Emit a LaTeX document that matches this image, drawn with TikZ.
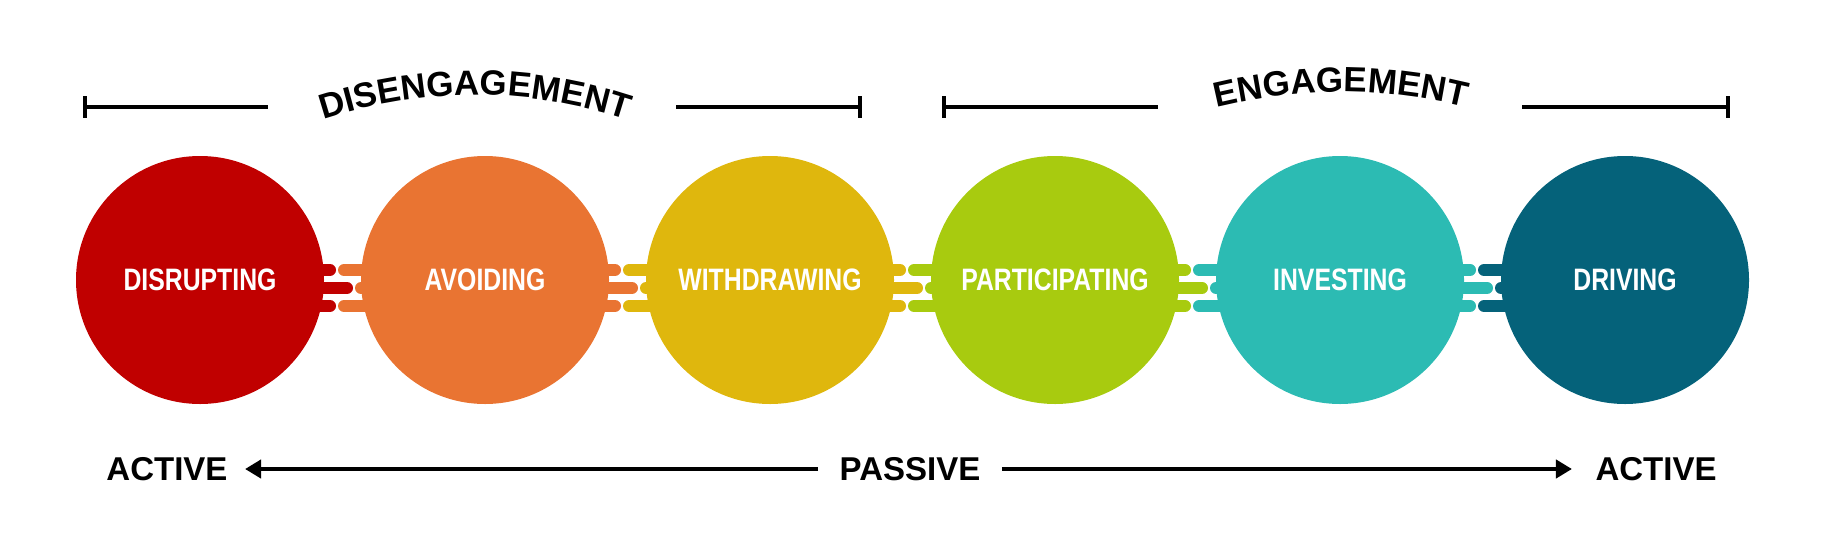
\documentclass[tikz,border=0pt]{standalone}
\usepackage{fontspec}
\setmainfont{Liberation Sans}
\newfontfamily\condfont[FakeStretch=0.80]{Liberation Sans}
\usetikzlibrary{decorations.text,arrows.meta}
\definecolor{cA}{HTML}{C00000}
\definecolor{cB}{HTML}{E97432}
\definecolor{cC}{HTML}{DFB70D}
\definecolor{cD}{HTML}{A8CB0F}
\definecolor{cE}{HTML}{2CBBB3}
\definecolor{cF}{HTML}{05627A}
\begin{document}
\begin{tikzpicture}[x=1pt,y=1pt,
  circ/.style={circle,minimum size=248pt,inner sep=0pt,fill=#1,text=white,font=\condfont\bfseries\fontsize{31}{31}\selectfont},
  bar/.style={line width=12pt,line cap=round,draw=#1},
  rule/.style={line width=4.5pt},
  lab/.style={font=\bfseries\fontsize{33}{33}\selectfont}]
\useasboundingbox (0,0) rectangle (1828,-549);
% connector bars
\foreach \i/\ca/\cb in {0/cA/cB,1/cB/cC,2/cC/cD,3/cD/cE,4/cE/cF}{
  \pgfmathsetmacro\cx{200+285*\i}
  \draw[bar=\ca] (\cx+100,-270) -- (\cx+130,-270);
  \draw[bar=\ca] (\cx+100,-288) -- (\cx+147,-288);
  \draw[bar=\ca] (\cx+100,-306) -- (\cx+130,-306);
  \draw[bar=\cb] (\cx+144,-270) -- (\cx+200,-270);
  \draw[bar=\cb] (\cx+161,-288) -- (\cx+200,-288);
  \draw[bar=\cb] (\cx+144,-306) -- (\cx+200,-306);
}
\node[circ=cA] (c1) at (200,-280) {DISRUPTING};
\node[circ=cB] (c2) at (485,-280) {AVOIDING};
\node[circ=cC] (c3) at (770,-280) {WITHDRAWING};
\node[circ=cD] (c4) at (1055,-280) {PARTICIPATING};
\node[circ=cE] (c5) at (1340,-280) {INVESTING};
\node[circ=cF] (c6) at (1625,-280) {DRIVING};
% brackets
\draw[rule] (85,-107) -- (268,-107) (676,-107) -- (860,-107);
\draw[rule] (85,-96) -- (85,-118) (860,-96) -- (860,-118);
\draw[rule] (944,-107) -- (1158,-107) (1522,-107) -- (1728,-107);
\draw[rule] (944,-96) -- (944,-118) (1728,-96) -- (1728,-118);
\path[decorate,decoration={text along path,text align=center,
  text format delimiters={|}{|},
  text={|\bfseries\fontsize{35}{35}\selectfont|DISENGAGEMENT}}]
  (300,-128) .. controls (415,-84) and (535,-84) .. (650,-128);
\path[decorate,decoration={text along path,text align=center,
  text format delimiters={|}{|},
  text={|\bfseries\fontsize{35}{35}\selectfont|ENGAGEMENT}}]
  (1185,-116) .. controls (1290,-84) and (1392,-84) .. (1497,-116);
% bottom axis
\node[lab] (a1) at (167,-469) {ACTIVE};
\node[lab] (p) at (910,-469) {PASSIVE};
\node[lab] (a2) at (1656,-469) {ACTIVE};
\draw[rule,-{Triangle[length=16pt,width=18pt]}] (p.west)+(-18,0) -- ([xshift=14pt]a1.east);
\draw[rule,-{Triangle[length=16pt,width=18pt]}] (p.east)+(18,0) -- ([xshift=-20pt]a2.west);
\end{tikzpicture}
\end{document}
